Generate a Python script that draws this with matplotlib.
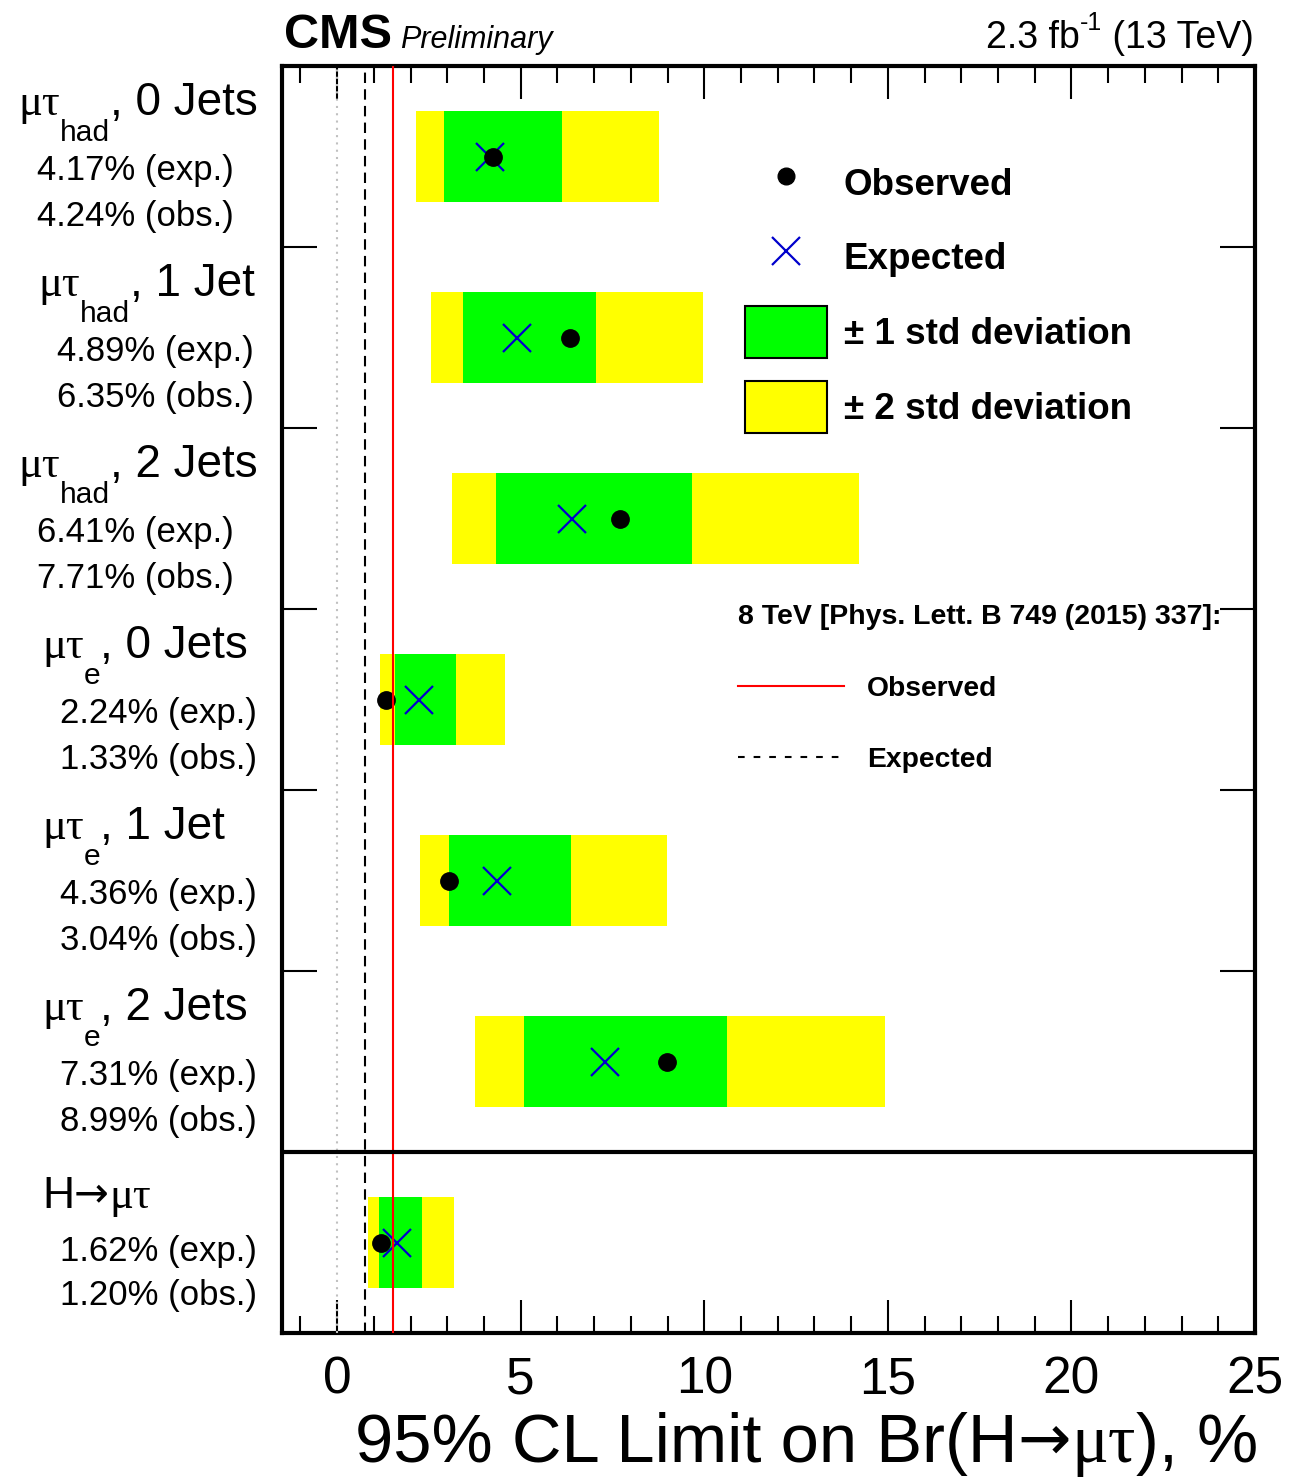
import matplotlib
matplotlib.use("Agg")
import matplotlib.pyplot as plt
import matplotlib.transforms as mtransforms
from matplotlib.ticker import MultipleLocator
from matplotlib.lines import Line2D
from matplotlib.patches import Patch

plt.rcParams['font.family'] = 'Liberation Sans'

# channels, top to bottom
cat_sub = ['had', 'had', 'had', 'e', 'e', 'e', '']
cat_jets = ['0 Jets', '1 Jet', '2 Jets', '0 Jets', '1 Jet', '2 Jets', '']
exp = [4.17, 4.89, 6.41, 2.24, 4.36, 7.31, 1.62]
obs = [4.24, 6.35, 7.71, 1.33, 3.04, 8.99, 1.20]
lo2 = [2.15, 2.56, 3.13, 1.17, 2.26, 3.76, 0.84]
lo1 = [2.92, 3.43, 4.33, 1.58, 3.05, 5.10, 1.14]
hi1 = [6.13, 7.06, 9.67, 3.24, 6.38, 10.63, 2.32]
hi2 = [8.77, 9.97, 14.22, 4.58, 8.99, 14.93, 3.19]

# 8 TeV result
obs_8tev = 1.51
exp_8tev = 0.75

W, H = 1291, 1478
SANS = 'Liberation Sans'
SERIF = 'Liberation Serif'
ARROW = 'DejaVu Sans'
BLUE = '#0000cc'

fig = plt.figure(figsize=(W / 100, H / 100), dpi=100)
ax = fig.add_axes([282 / W, 1 - 1333 / H, (1255 - 282) / W, (1333 - 66) / H])

n = len(exp)
ycent = [n - i - 0.5 for i in range(n)]

ax.barh(ycent, [b - a for a, b in zip(lo2, hi2)], left=lo2, height=0.5,
        color='#ffff00', lw=0, zorder=1)
ax.barh(ycent, [b - a for a, b in zip(lo1, hi1)], left=lo1, height=0.5,
        color='#00ff00', lw=0, zorder=2)
ax.plot(exp, ycent, ls='none', marker='x', color=BLUE, ms=20, mew=1.6, zorder=3)
ax.plot(obs, ycent, ls='none', marker='o', color='k', ms=12.5, zorder=4)

ax.axvline(0, color='#c0c0c0', lw=1.5, ls=(0, (1, 2.5)), zorder=5)
ax.axvline(exp_8tev, color='k', lw=1.5, ls=(0, (5, 3)), zorder=5)
ax.axvline(obs_8tev, color='red', lw=1.5, zorder=5)
ax.axhline(1, color='k', lw=3, zorder=6)

ax.set_xlim(-1.5, 25)
ax.set_ylim(0, n)
ax.set_xticks(range(0, 26, 5))
ax.xaxis.set_minor_locator(MultipleLocator(1))
ax.tick_params(axis='x', which='both', direction='in', top=True, bottom=True,
               width=1.5, labelsize=37, pad=16)
ax.tick_params(axis='x', which='major', length=24)
ax.tick_params(axis='x', which='minor', length=12)
ax.set_yticks(range(2, n))
ax.tick_params(axis='y', direction='in', left=True, right=True, length=25,
               width=1.5, labelleft=False)
for s in ax.spines.values():
    s.set_linewidth(3)

blend = mtransforms.blended_transform_factory(fig.transFigure, ax.transData)


def chain(x, y, trans, pieces):
    prev = None
    for s, fam, size, dy in pieces:
        if prev is None:
            xy, coords = (x, y), trans
        else:
            xy, coords = (1, y), (prev, trans)
        prev = ax.annotate(s, xy=xy, xycoords=coords, xytext=(0, dy),
                           textcoords='offset points', family=fam, size=size,
                           va='baseline', annotation_clip=False)
    return prev


# row labels
main_x = [18, 38, 18, 42, 42, 42, 42]
val_x = [37, 57, 37, 60, 60, 60, 60]
for i in range(n):
    top = n - i
    if i < n - 1:
        f = (0.27, 0.63, 0.885)
        pieces = [('μτ', SERIF, 32, 0), (cat_sub[i], SANS, 21.6, -19),
                  (', ' + cat_jets[i], SANS, 33, 0)]
    else:
        f = (0.31, 0.60, 0.845)
        pieces = [('H', SANS, 32, 0), ('→', ARROW, 30, 1), ('μτ', SERIF, 32, 0)]
    chain(main_x[i] / W, top - f[0], blend, pieces)
    ax.text(val_x[i] / W, top - f[1], f'{exp[i]:.2f}% (exp.)', transform=blend,
            size=25, va='baseline')
    ax.text(val_x[i] / W, top - f[2], f'{obs[i]:.2f}% (obs.)', transform=blend,
            size=25, va='baseline')

# x axis title
chain(355 / W, 1 - 1462 / H, fig.transFigure,
      [('95% CL Limit on Br(H', SANS, 49.5, 0), ('→', ARROW, 46, 2),
       ('μτ', SERIF, 49.5, 0), ('), %', SANS, 49.5, 0)])

# header
fig.text(284 / W, 1 - 48 / H, 'CMS', weight='bold', size=35, va='baseline')
fig.text(400 / W, 1 - 48 / H, 'Preliminary', style='italic', size=22, va='baseline')
chain(986 / W, 1 - 48 / H, fig.transFigure,
      [('2.3 fb', SANS, 27, 0), ('-1', SANS, 18, 13), (' (13 TeV)', SANS, 27, 0)])

# legends
h1 = [Line2D([], [], ls='none', marker='o', color='k', ms=12),
      Line2D([], [], ls='none', marker='x', color=BLUE, ms=20, mew=1.6),
      Patch(fc='#00ff00', ec='k', lw=1.5),
      Patch(fc='#ffff00', ec='k', lw=1.5)]
leg1 = ax.legend(h1, ['Observed', 'Expected', '± 1 std deviation', '± 2 std deviation'],
                 loc='upper left', bbox_to_anchor=(745 / W, 1 - 157 / H),
                 bbox_transform=fig.transFigure, frameon=False, borderpad=0,
                 borderaxespad=0, prop=dict(weight='bold', size=26.5),
                 handlelength=2.22, handleheight=1.79, handletextpad=0.46,
                 labelspacing=0.62)
ax.add_artist(leg1)

h2 = [Line2D([], [], color='red', lw=1.5),
      Line2D([], [], color='k', lw=1.5, ls=(0, (3.2, 4.3)))]
ax.legend(h2, ['Observed', 'Expected'], title='8 TeV [Phys. Lett. B 749 (2015) 337]:',
          title_fontproperties=dict(weight='bold', size=20.5),
          loc='upper left', bbox_to_anchor=(738 / W, 1 - 604 / H),
          bbox_transform=fig.transFigure, frameon=False, borderpad=0,
          borderaxespad=0, prop=dict(weight='bold', size=20.3),
          handlelength=3.76, handletextpad=0.82, labelspacing=1.62,
          alignment='left')

fig.savefig('out.png', dpi=100)
